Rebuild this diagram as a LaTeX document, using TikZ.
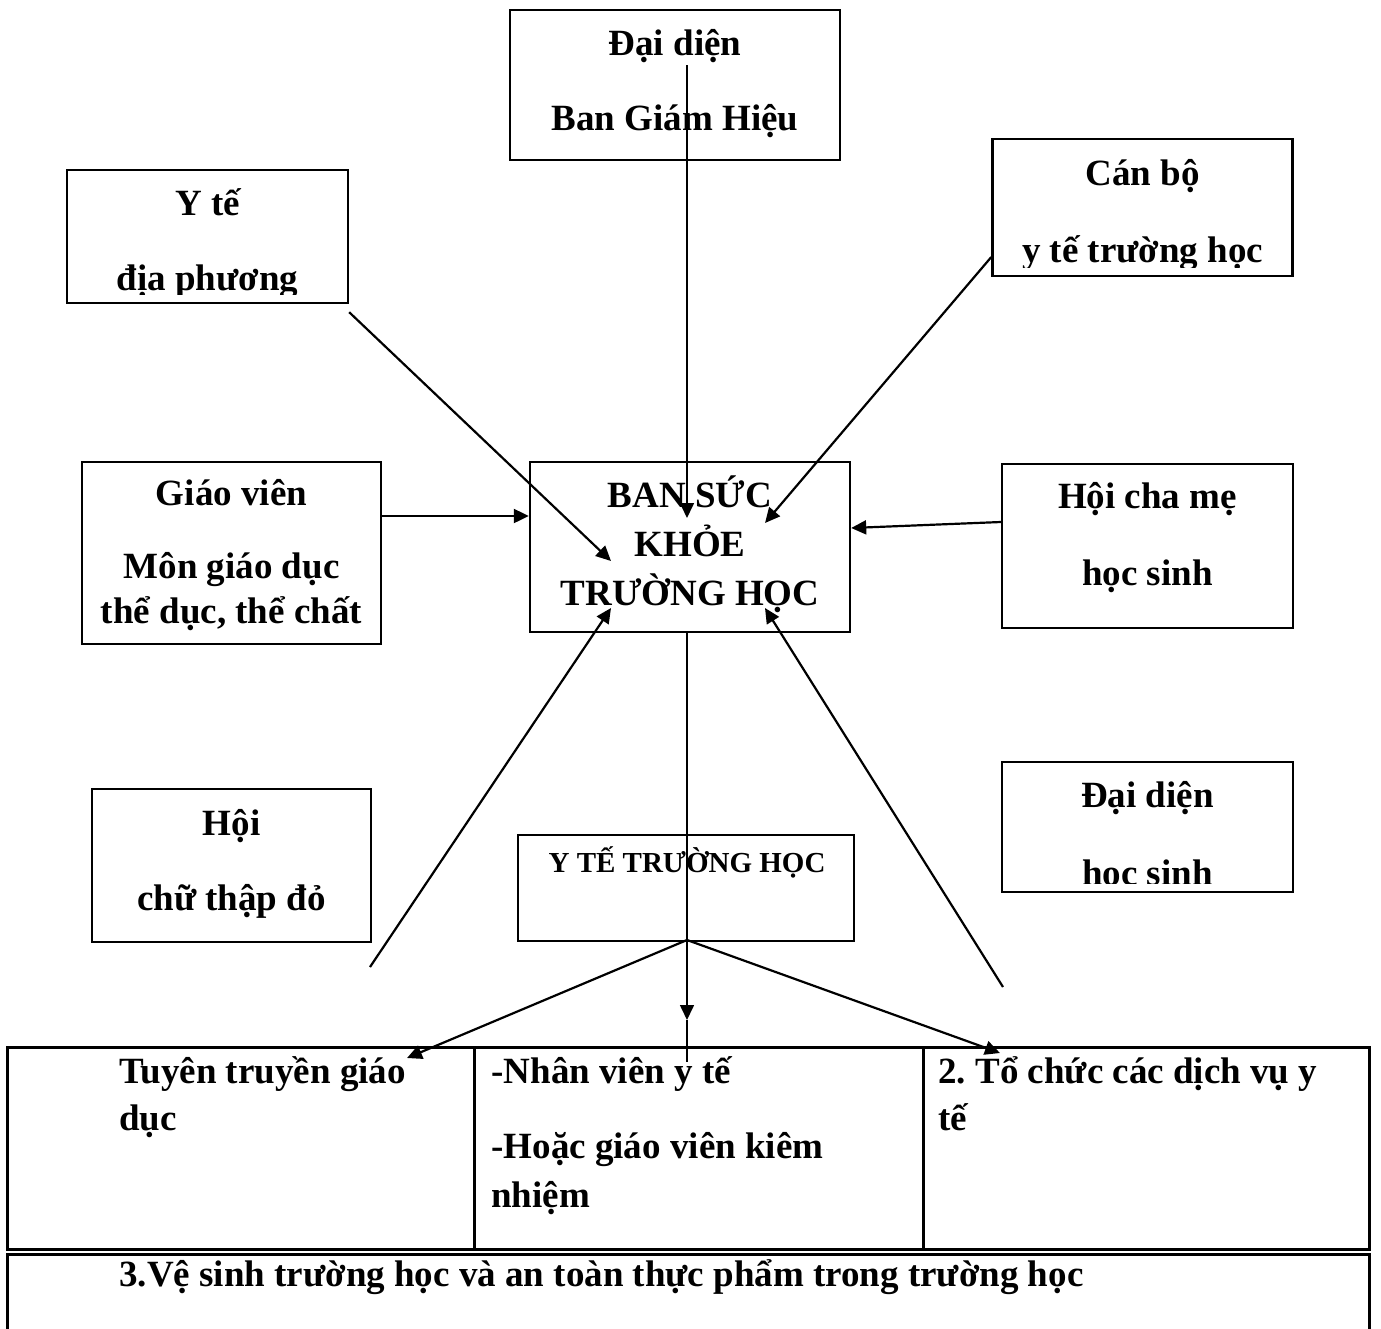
\documentclass[tikz,border=0pt]{standalone}
\usepackage{fontspec}
\setmainfont{Liberation Serif}
\usetikzlibrary{
    arrows.meta,
    positioning
}
\frenchspacing
\tikzset{%
    >={Triangle[length=7.5pt,width=7pt]},
    % Specifications for style of nodes:
    box/.style = {
        rectangle, draw=black, line width=1.2pt,
        inner sep=0pt, fill=none
    },
    cell/.style = {box, line width=1.5pt},
    txt/.style = {anchor=base, inner sep=0pt,
        font=\fontsize{18.5}{22}\selectfont\bfseries},
    txtl/.style = {txt, anchor=base west},
    small/.style = {txt, font=\fontsize{14.5}{17}\selectfont\bfseries},
    link/.style = {->, line width=1.1pt},
    thinlink/.style = {->, line width=0.8pt}
}

\begin{document}
\begin{tikzpicture}[x=0.5pt, y=-0.5pt]
    \useasboundingbox (0,0) rectangle (1381,1328);
    \clip (0,0) rectangle (1381,1328);
    % boxes round the board
    \node[box, minimum width=165pt, minimum height=75pt] (bgh) at (675,85) {};
    \node[txt] (bgh-a) at (675,55) {Đại diện};
    \node[txt] (bgh-b) at (675,130) {Ban Giám Hiệu};

    \node[box, minimum width=140.5pt, minimum height=66.5pt] (ytdp) at (207.5,236.5) {};
    \node[txt] (ytdp-a) at (207.5,215) {Y tế};
    \begin{scope}
        \clip (ytdp.north west) rectangle ([yshift=5pt]ytdp.south east);
        \node[txt] (ytdp-b) at (207.5,290) {địa phương};
    \end{scope}

    \node[box, minimum width=150pt, minimum height=68.5pt] (canbo) at (1142.5,207.5) {};
    \node[txt] (canbo-a) at (1142.5,185) {Cán bộ};
    \begin{scope}
        \clip (canbo.north west) rectangle ([yshift=5pt]canbo.south east);
        \node[txt] (canbo-b) at (1142.5,262) {y tế trường học};
    \end{scope}

    \node[box, minimum width=149.5pt, minimum height=91pt] (gv) at (231.5,553) {};
    \node[txt] (gv-a) at (231.5,505) {Giáo viên};
    \node[txt] (gv-b) at (231.5,578) {Môn giáo dục};
    \node[txt] (gv-c) at (231.5,623) {thể dục, thể chất};

    \node[box, minimum width=160pt, minimum height=85pt] (ban) at (690,547) {};
    \node[txt] (ban-a) at (690,507) {BAN SỨC};
    \node[txt] (ban-b) at (690,556) {KHỎE};
    \node[txt] (ban-c) at (690,605) {TRƯỜNG HỌC};

    \node[box, minimum width=145.5pt, minimum height=82pt] (chame) at (1147.5,546) {};
    \node[txt] (chame-a) at (1147.5,508) {Hội cha mẹ};
    \node[txt] (chame-b) at (1147.5,585) {học sinh};

    \node[box, minimum width=139.5pt, minimum height=76.5pt] (ctd) at (231.5,865.5) {};
    \node[txt] (ctd-a) at (231.5,835) {Hội};
    \node[txt] (ctd-b) at (231.5,910) {chữ thập đỏ};

    \node[box, minimum width=145.5pt, minimum height=65pt] (hs) at (1147.5,827) {};
    \node[txt] (hs-a) at (1147.5,807) {Đại diện};
    \begin{scope}
        \clip (hs.north west) rectangle ([yshift=5pt]hs.south east);
        \node[txt] (hs-b) at (1147.5,885) {học sinh};
    \end{scope}

    \node[box, minimum width=168pt, minimum height=53pt] (ytth) at (686,888) {};
    \node[small] (ytth-a) at (687,872) {Y TẾ TRƯỜNG HỌC};

    % table at the foot
    \node[cell, minimum width=233.5pt, minimum height=101pt] (c1) at (240.5,1148) {};
    \node[cell, minimum width=224.5pt, minimum height=101pt] (c2) at (698.5,1148) {};
    \node[cell, minimum width=223pt, minimum height=101pt] (c3) at (1146,1148) {};
    \node[cell, minimum width=681pt, minimum height=44pt] (low) at (688,1298.5) {};
    \node[txtl] (c1-a) at (119,1083) {Tuyên truyền giáo};
    \node[txtl] (c1-b) at (119,1130) {dục};
    \node[txtl] (c2-a) at (491,1083) {-Nhân viên y tế};
    \node[txtl] (c2-b) at (491,1158) {-Hoặc giáo viên kiêm};
    \node[txtl] (c2-c) at (491,1207) {nhiệm};
    \node[txtl] (c3-a) at (938,1083) {2. Tổ chức các dịch vụ y};
    \node[txtl] (c3-b) at (938,1130) {tế};
    \node[txtl] (low-a) at (119,1286) {3.Vệ sinh trường học và an toàn thực phẩm trong trường học};

    % ends of the connectors
    \coordinate (bgh-out) at (687,65);
    \coordinate (ban-in1) at (687,518);
    \coordinate (ban-in2) at (611,561);
    \coordinate (ban-in3) at (765,523);
    \coordinate (ban-in4) at (611,608);
    \coordinate (ban-in5) at (765,608);
    \coordinate (ctd-out) at (370,967);
    \coordinate (hs-out) at (1003,987);
    \coordinate (apex) at (687,940);
    \coordinate (c1-in) at (407,1058);
    \coordinate (c2-in) at (687,1020);
    \coordinate (c2-end) at (687,1062);
    \coordinate (c3-in) at (1000,1053);

    \draw[thinlink] (bgh-out) -- (ban-in1);
    \draw[link] ([yshift=-4pt]ytdp.south east) -- (ban-in2);
    \draw[link] (canbo.west |- 0,257) -- (ban-in3);
    \draw[link] (gv.east |- 0,516) -- (ban.west |- 0,516);
    \draw[link] (chame.west |- 0,522) -- (ban.east |- 0,528);
    \draw[link] (ctd-out) -- (ban-in4);
    \draw[link] (hs-out) -- (ban-in5);
    \draw[line width=0.8pt] (ban.south -| apex) -- (apex);
    \draw[link] (apex) -- (c1-in);
    \draw[thinlink] (apex) -- (c2-in);
    \draw[line width=0.8pt] (c2-in) -- (c2-end);
    \draw[link] (apex) -- (c3-in);
\end{tikzpicture}
\end{document}
